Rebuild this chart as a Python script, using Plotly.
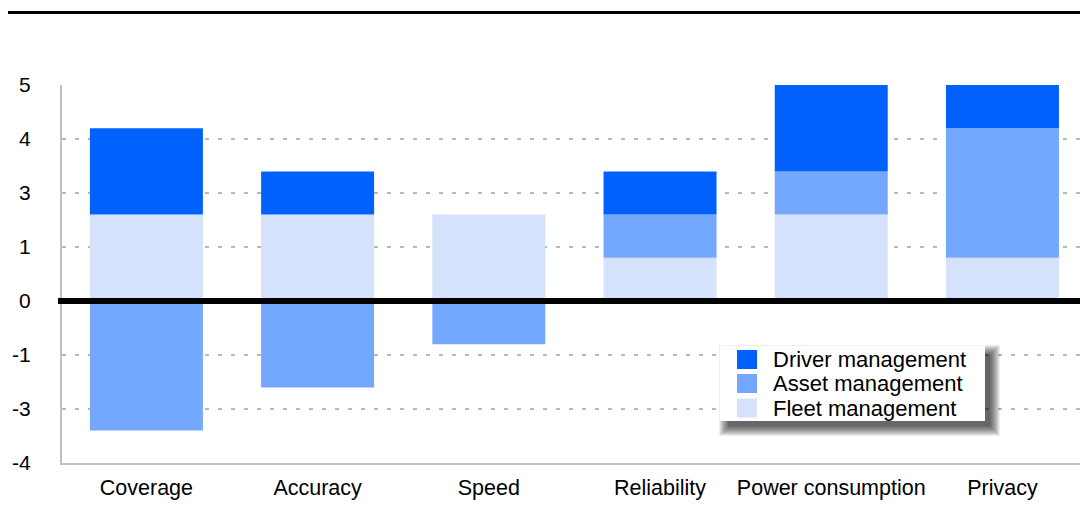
import plotly.graph_objects as go

# Scores per criterion for each management category
categories = ["Coverage", "Accuracy", "Speed", "Reliability", "Power consumption", "Privacy"]
fleet_mgmt = [1.6, 1.6, 1.6, 0.8, 1.6, 0.8]
asset_mgmt = [-2.4, -1.6, -0.8, 0.8, 0.8, 2.4]
driver_mgmt = [1.6, 0.8, None, 0.8, 1.6, 0.8]

series_names = ["Driver management", "Asset management", "Fleet management"]
y_tickvals = [-3, -2, -1, 0, 1, 2, 3, 4]
y_ticktext = ["-4", "-3", "-1", "0", "1", "3", "4", "5"]

C_DRIVER = "rgb(0,97,255)"
C_ASSET = "rgb(116,167,254)"
C_FLEET = "rgb(212,226,252)"

W, H = 1080, 532
ML, MR, MT, MB = 62, 0, 85, 69
PW, PH = W - ML - MR, H - MT - MB
FONT = "Liberation Sans, Arial, sans-serif"


def px(x):
    return (x - ML) / PW


def py(y):
    return (H - MB - y) / PH


fig = go.Figure()
for name, vals, col in [
    ("Fleet management", fleet_mgmt, C_FLEET),
    ("Asset management", asset_mgmt, C_ASSET),
    ("Driver management", driver_mgmt, C_DRIVER),
]:
    fig.add_trace(go.Bar(x=categories, y=vals, name=name, marker=dict(color=col, line=dict(width=0)),
                         showlegend=False))

shapes = []
# header rule and zero baseline
shapes.append(dict(type="line", xref="paper", yref="paper", x0=px(8), x1=1.0, y0=py(12.5), y1=py(12.5),
                   line=dict(color="black", width=3), layer="above"))
shapes.append(dict(type="line", xref="paper", yref="y", x0=px(58), x1=1.0, y0=0, y1=0,
                   line=dict(color="black", width=6), layer="above"))

# legend box with soft drop shadow
bx0, bx1, by0, by1 = 720, 985, 346, 421
for i in range(12):
    g = i * 0.9
    shapes.append(dict(type="rect", xref="paper", yref="paper",
                       x0=px(bx0 + 9 - g), x1=px(bx1 + 5 + g), y0=py(by0 + 9 - g), y1=py(by1 + 5 + g),
                       fillcolor="rgba(0,0,0,0.07)", line=dict(width=0), layer="above"))
shapes.append(dict(type="rect", xref="paper", yref="paper", x0=px(bx0), x1=px(bx1), y0=py(by0), y1=py(by1),
                   fillcolor="white", line=dict(width=0), layer="above"))

annotations = []
row_y = [359.5, 383.5, 408]
for name, col, ry in zip(series_names, [C_DRIVER, C_ASSET, C_FLEET], row_y):
    shapes.append(dict(type="rect", xref="paper", yref="paper", x0=px(737), x1=px(757),
                       y0=py(ry - 9.5), y1=py(ry + 9.5), fillcolor=col, line=dict(width=0), layer="above"))
    annotations.append(dict(xref="paper", yref="paper", x=px(771), y=py(ry), text=name, showarrow=False,
                            xanchor="left", yanchor="middle", font=dict(family=FONT, size=22, color="black")))

fig.update_layout(
    width=W, height=H,
    margin=dict(l=ML, r=MR, t=MT, b=MB),
    paper_bgcolor="white", plot_bgcolor="white",
    barmode="relative", bargap=0.34,
    font=dict(family=FONT, color="black"),
    shapes=shapes, annotations=annotations,
    xaxis=dict(range=[-0.493, 5.453], showgrid=False, zeroline=False,
               showline=True, linecolor="#c0c0c0", linewidth=2,
               ticks="", tickfont=dict(size=21.5), ticklabelstandoff=4),
    yaxis=dict(range=[-3, 4], tickvals=y_tickvals, ticktext=y_ticktext,
               showgrid=True, gridcolor="#b8b8b8", gridwidth=2, griddash="4px,9px",
               zeroline=False, showline=True, linecolor="#c0c0c0", linewidth=2,
               ticks="", tickfont=dict(size=21), ticklabelstandoff=25),
)

fig.write_html("out.html")
